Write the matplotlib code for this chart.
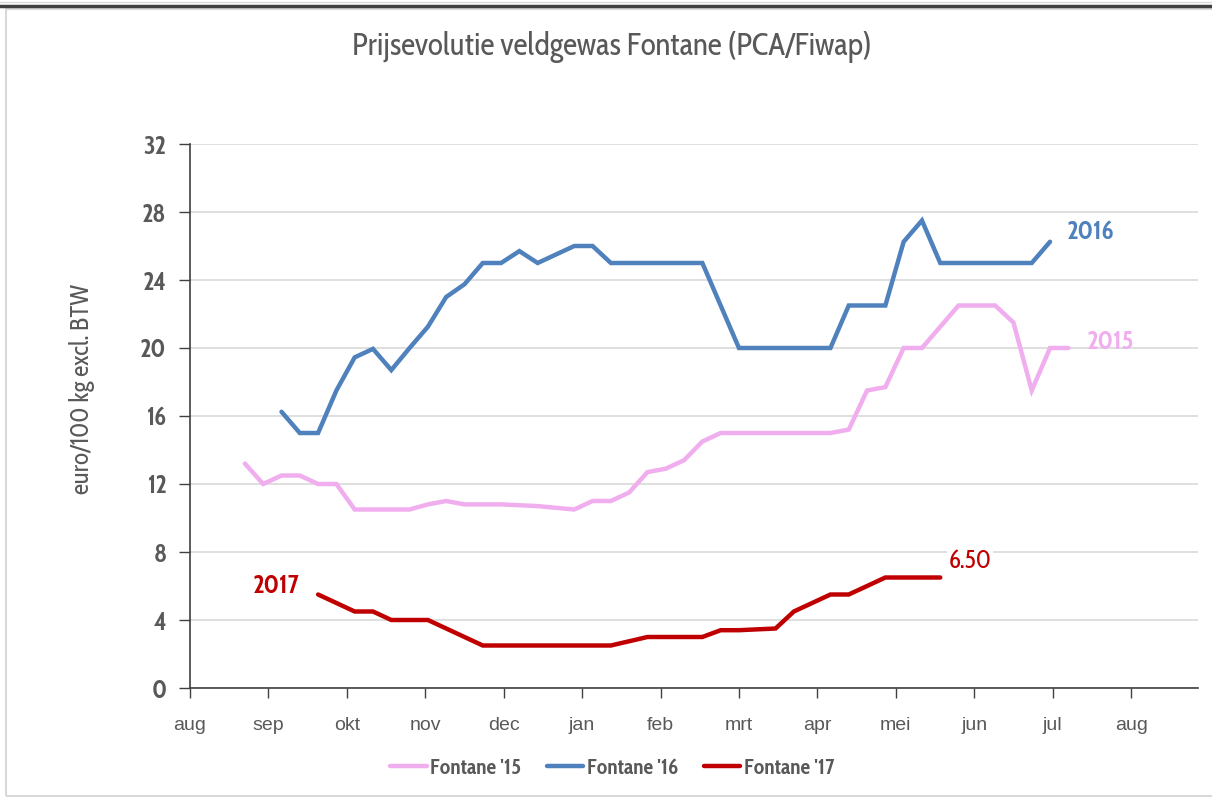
import numpy as np
import matplotlib
matplotlib.use("Agg")
import matplotlib.pyplot as plt
from matplotlib.lines import Line2D
from matplotlib.patches import Rectangle
import logging
logging.getLogger("matplotlib.font_manager").setLevel(logging.ERROR)

# ---- data ----
months = ["aug", "sep", "okt", "nov", "dec", "jan", "feb", "mrt", "apr", "mei", "jun", "jul", "aug"]
# day of season (30-day months from 1 Aug), weekly observations
start_15, start_16, start_17 = 21, 35, 49
fontane_15 = [13.2, 12.0, 12.5, 12.5, 12.0, 12.0, 10.5, 10.5, 10.5, 10.5,
              10.8, 11.0, 10.8, 10.8, 10.8, 10.75, 10.7, 10.6, 10.5, 11.0,
              11.0, 11.5, 12.7, 12.9, 13.4, 14.5, 15.0, 15.0, 15.0, 15.0,
              15.0, 15.0, 15.0, 15.2, 17.5, 17.7, 20.0, 20.0, 21.25, 22.5,
              22.5, 22.5, 21.5, 17.5, 20.0, 20.0]
fontane_16 = [16.25, 15.0, 15.0, 17.5, 19.45, 19.95, 18.7, 20.0, 21.25, 23.0,
              23.75, 25.0, 25.0, 25.7, 25.0, 25.5, 26.0, 26.0, 25.0, 25.0,
              25.0, 25.0, 25.0, 25.0, 22.5, 20.0, 20.0, 20.0, 20.0, 20.0,
              20.0, 22.5, 22.5, 22.5, 26.25, 27.5, 25.0, 25.0, 25.0, 25.0,
              25.0, 25.0, 26.25]
fontane_17 = [5.5, 5.0, 4.5, 4.5, 4.0, 4.0, 4.0, 3.5, 3.0, 2.5,
              2.5, 2.5, 2.5, 2.5, 2.5, 2.5, 2.5, 2.75, 3.0, 3.0,
              3.0, 3.0, 3.4, 3.4, 3.45, 3.5, 4.5, 5.0, 5.5, 5.5,
              6.0, 6.5, 6.5, 6.5, 6.5]
series_names = ["Fontane '15", "Fontane '16", "Fontane '17"]
year_labels = ["2015", "2016", "2017"]
last_label = "6.50"
yticks = [0, 4, 8, 12, 16, 20, 24, 28, 32]

x15 = start_15 + 7 * np.arange(len(fontane_15))
x16 = start_16 + 7 * np.arange(len(fontane_16))
x17 = start_17 + 7 * np.arange(len(fontane_17))

c15, c16, c17 = "#F0AEEE", "#4F81BD", "#C00000"
txt = "#595959"
narrow = ["Cabin Condensed", "Fira Sans Condensed", "PT Sans Narrow", "IBM Plex Sans Condensed", "DejaVu Sans"]

fig = plt.figure(figsize=(12.12, 7.98), dpi=100)
ax = fig.add_axes([190 / 1212, 1 - 688 / 798, 1008 / 1212, 544 / 798])

l15, = ax.plot(x15, fontane_15, color=c15, lw=3.2, solid_joinstyle="miter", solid_capstyle="round", zorder=3)
l16, = ax.plot(x16, fontane_16, color=c16, lw=3.2, solid_joinstyle="miter", solid_capstyle="round", zorder=3)
l17, = ax.plot(x17, fontane_17, color=c17, lw=3.2, solid_joinstyle="miter", solid_capstyle="round", zorder=4)

ax.set_xlim(0, 385.6)
ax.set_ylim(0, 32)
ax.set_xticks(np.arange(len(months)) * 30)
ax.set_xticklabels(months, color=txt, fontsize=14, family="Liberation Sans")
ax.set_yticks(yticks)
ax.set_yticklabels([str(v) for v in yticks], color=txt, fontsize=18, fontweight="bold", family=narrow)
ax.yaxis.grid(True, color="#D9D9D9", lw=1.2)
ax.set_axisbelow(True)
for s in ["top", "right"]:
    ax.spines[s].set_visible(False)
for s in ["left", "bottom"]:
    ax.spines[s].set_color("#404040")
    ax.spines[s].set_linewidth(1.2)
ax.tick_params(axis="y", length=8, width=1, color="#404040", pad=9)
ax.tick_params(axis="x", length=7, width=1, color="#404040", pad=14)

ax.set_ylabel("euro/100 kg excl. BTW", fontsize=18, color=txt, family=narrow)
ax.yaxis.set_label_coords(-0.094, 0.55)

fig.text(612 / 1212, 1 - 47 / 798, "Prijsevolutie veldgewas Fontane (PCA/Fiwap)",
         ha="center", va="center", fontsize=22.5, color=txt, family=narrow)

ax.annotate(year_labels[1], (x16[-1], fontane_16[-1]), xytext=(12, 7), textcoords="offset points",
            ha="left", va="center", color=c16, fontsize=18.5, fontweight="bold", family=narrow)
ax.annotate(year_labels[0], (x15[-1], fontane_15[-1]), xytext=(13, 4), textcoords="offset points",
            ha="left", va="center", color=c15, fontsize=18.5, fontweight="bold", family=narrow)
ax.annotate(year_labels[2], (x17[0], fontane_17[0]), xytext=(-13, 6), textcoords="offset points",
            ha="right", va="center", color=c17, fontsize=18.5, fontweight="bold", family=narrow)
ax.annotate(last_label, (x17[-1], fontane_17[-1]), xytext=(6, 12), textcoords="offset points",
            ha="left", va="center", color=c17, fontsize=18, family=narrow,
            bbox=dict(facecolor="white", edgecolor="none", pad=1))

fig.legend([l15, l16, l17], series_names, loc="center", bbox_to_anchor=(612 / 1212, 1 - 768 / 798),
           ncol=3, frameon=False, handlelength=1.7, handletextpad=0.15, columnspacing=1.2,
           prop=dict(family=narrow, size=15.5, weight="bold"), labelcolor=txt)

# outer frame
fig.add_artist(Rectangle((6 / 1212, 1 - 796 / 798), 1210 / 1212, 787 / 798, transform=fig.transFigure,
                         fill=False, edgecolor="#D9D9D9", lw=1.5))
fig.add_artist(Line2D([0, 1], [1 - 6 / 798, 1 - 6 / 798], transform=fig.transFigure, color="#404040", lw=2.5))
fig.add_artist(Line2D([0, 1], [1 - 1.5 / 798, 1 - 1.5 / 798], transform=fig.transFigure, color="#D9D9D9", lw=1))

fig.savefig("out.png", dpi=100, facecolor="white")
